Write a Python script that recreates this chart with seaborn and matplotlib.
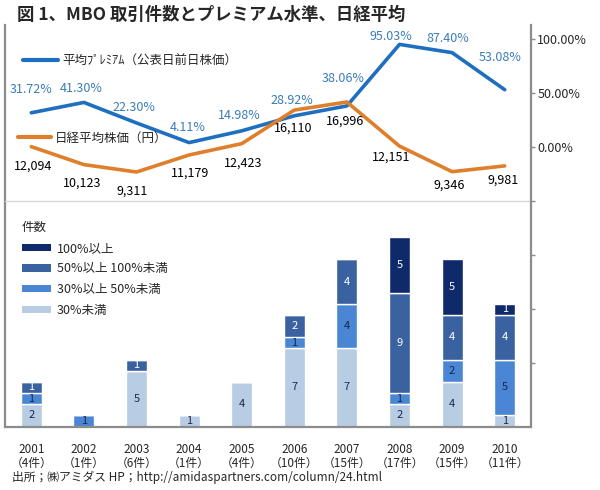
# MBO deal counts (stacked by premium band) with average premium and Nikkei average
import numpy as np
import pandas as pd
import matplotlib
matplotlib.use("Agg")
import matplotlib.pyplot as plt
import seaborn as sns
from matplotlib.lines import Line2D
from matplotlib.patches import Patch

# --- data ---
years = ["2001", "2002", "2003", "2004", "2005", "2006", "2007", "2008", "2009", "2010"]
deal_counts = [4, 1, 6, 1, 4, 10, 15, 17, 15, 11]
premium_pct = [31.72, 41.30, 22.30, 4.11, 14.98, 28.92, 38.06, 95.03, 87.40, 53.08]
nikkei_yen = [12094, 10123, 9311, 11179, 12423, 16110, 16996, 12151, 9346, 9981]

under_30 = [2, 0, 5, 1, 4, 7, 7, 2, 4, 1]
from_30_to_50 = [1, 1, 0, 0, 0, 1, 4, 1, 2, 5]
from_50_to_100 = [1, 0, 1, 0, 0, 2, 4, 9, 4, 4]
over_100 = [0, 0, 0, 0, 0, 0, 0, 5, 5, 1]

band_names = ["30%未満", "30%以上 50%未満", "50%以上 100%未満", "100%以上"]
pct_ticks = [-200, -150, -100, -50, 0, 50, 100]

# --- style ---
band_colors = ["#b8cce4", "#4a86d3", "#3a62a0", "#0f2a6b"]
band_text = ["#1b2a4c", "#14284f", "white", "white"]
blue = "#1f6fc0"
orange = "#df7f2c"
label_blue = "#3a7cb8"
frame_gray = "#8c8c8c"

# label nudges (points) so the texts sit like in the source chart
prem_dx = [0, -2, -2, -1, -2, -2, -3, -6, -3, -3]
prem_dy = [17, 10, 11, 11, 11, 11, 20, 6, 10, 23]
nk_dx = [1, -1, -3, 1, 1, -1, -1, -6, -2, -1]
nk_dy = [-14, -13, -14, -13, -14, -13, -14, -8, -10, -10]

sns.set_style("white")
plt.rcParams["font.family"] = ["Noto Sans CJK JP", "DejaVu Sans"]

fig = plt.figure(figsize=(6, 4.9), dpi=100)
W, H = 600, 490
left, right, top, bot = 5, 531, 25, 426.5
ax = fig.add_axes([left / W, 1 - bot / H, (right - left) / W, (bot - top) / H])

# stacked bars
df = pd.DataFrame({"year": years})
bottom = np.zeros(len(years))
for name, vals, col, tcol in zip(band_names, [under_30, from_30_to_50, from_50_to_100, over_100],
                                 band_colors, band_text):
    sns.barplot(x=df["year"], y=vals, bottom=bottom, color=col, saturation=1,
                width=0.4, errorbar=None, ax=ax)
    cont = ax.containers[-1]
    ax.bar_label(cont, labels=[str(v) if v else "" for v in vals], label_type="center",
                 color=tcol, fontsize=8)
    bottom += np.array(vals)

ax.set_xlim(-0.5, 9.5)
ax.set_ylim(0, 36)
ax.set_xlabel("")
ax.set_ylabel("")
ax.set_yticks([])
ax.set_xticks(range(len(years)))
ax.set_xticklabels([f"{y}\n（{n}件）" for y, n in zip(years, deal_counts)], fontsize=8.5,
                   linespacing=1.1)
ax.tick_params(axis="x", which="major", length=0, pad=12)
ax.set_xticks(np.arange(0.5, 9.5, 1), minor=True)
ax.tick_params(axis="x", which="minor", length=3, width=1, color=frame_gray, direction="out")
for s in ["top", "right"]:
    ax.spines[s].set_visible(False)
for s in ["left", "bottom"]:
    ax.spines[s].set_color(frame_gray)
    ax.spines[s].set_linewidth(1.6)

leg_b = ax.legend(handles=[Patch(facecolor=c, edgecolor="none", label=n)
                           for n, c in zip(band_names[::-1], band_colors[::-1])],
                  title="件数", title_fontsize=9, fontsize=9, frameon=False,
                  loc="upper left", bbox_to_anchor=(0.032, 0.512), borderpad=0,
                  borderaxespad=0, handlelength=2.3, handleheight=0.5,
                  handletextpad=0.5, labelspacing=0.62)
leg_b._legend_box.align = "left"

# premium axis (right)
ax_pct = ax.twinx()
ax_pct.set_ylim(-258.8, 113)
ax_pct.axhline(-50, color="#d6d6d6", lw=1, zorder=0)
sns.lineplot(x=np.arange(len(years)), y=premium_pct, color=blue, lw=2.6, ax=ax_pct)
for i, v in enumerate(premium_pct):
    ax_pct.annotate(f"{v:.2f}%", (i, v), xytext=(prem_dx[i], prem_dy[i]),
                    textcoords="offset points", ha="center", va="center",
                    color=label_blue, fontsize=9)
ax_pct.set_yticks(pct_ticks)
ax_pct.set_yticklabels([f"{t:.2f}%" if t >= 0 else "" for t in pct_ticks], fontsize=9)
ax_pct.tick_params(axis="y", length=3, width=1, color=frame_gray, pad=1.5)
for s in ["top", "left", "bottom"]:
    ax_pct.spines[s].set_visible(False)
ax_pct.spines["right"].set_color(frame_gray)
ax_pct.spines["right"].set_linewidth(1.6)
ax_pct.legend(handles=[Line2D([], [], color=blue, lw=3, label="平均ﾌﾟﾚﾐｱﾑ（公表日前日株価）")],
              loc="center left", bbox_to_anchor=(0.034, 0.91), frameon=False, fontsize=9,
              borderpad=0, borderaxespad=0, handlelength=2.8, handletextpad=0.35)

# Nikkei axis (hidden)
ax_nk = ax.twinx()
ax_nk.set_ylim(-18633, 25452)
sns.lineplot(x=np.arange(len(years)), y=nikkei_yen, color=orange, lw=2.6, ax=ax_nk)
for i, v in enumerate(nikkei_yen):
    ax_nk.annotate(f"{v:,}", (i, v), xytext=(nk_dx[i], nk_dy[i]),
                   textcoords="offset points", ha="center", va="center",
                   color="black", fontsize=9)
ax_nk.set_yticks([])
ax_nk.set_ylabel("")
for s in ax_nk.spines.values():
    s.set_visible(False)
ax_nk.legend(handles=[Line2D([], [], color=orange, lw=3, label="日経平均株価（円）")],
             loc="center left", bbox_to_anchor=(0.025, 0.7186), frameon=False, fontsize=9,
             borderpad=0, borderaxespad=0, handlelength=2.6, handletextpad=0.35)

fig.text(17 / W, 1 - 15 / H, "図 1、MBO 取引件数とプレミアム水準、日経平均",
         fontsize=12.5, fontweight="bold", va="center", ha="left")
fig.text(12 / W, 1 - 477 / H, "出所；㈱アミダス HP；http://amidaspartners.com/column/24.html",
         fontsize=8.5, va="center", ha="left")

fig.savefig("out.png", dpi=100)
